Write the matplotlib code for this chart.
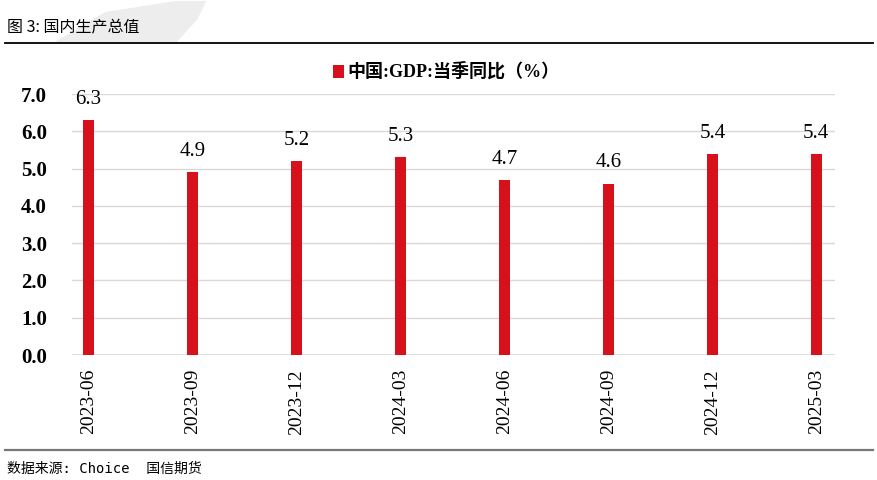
import matplotlib
matplotlib.use('Agg')
import matplotlib.pyplot as plt
from matplotlib.patches import Polygon, Rectangle
from matplotlib.lines import Line2D

quarters = ['2023-06', '2023-09', '2023-12', '2024-03',
            '2024-06', '2024-09', '2024-12', '2025-03']
gdp_yoy = [6.3, 4.9, 5.2, 5.3, 4.7, 4.6, 5.4, 5.4]
yticks = [0.0, 1.0, 2.0, 3.0, 4.0, 5.0, 6.0, 7.0]

title = '图 3: 国内生产总值'
legend_label = '中国:GDP:当季同比（%）'
source = '数据来源: Choice  国信期货'

RED = '#d7111c'
SERIF = ['Liberation Serif', 'DejaVu Serif']
CJK = ['Noto Sans CJK SC', 'DejaVu Sans']

fig = plt.figure(figsize=(8.78, 4.8), dpi=100)

# light grey brush stroke behind the header
fig.patches.append(Polygon([(0.06, 0.91), (0.12, 0.975), (0.2, 0.998), (0.235, 0.998),
                            (0.225, 0.96), (0.2, 0.91)], closed=True,
                           transform=fig.transFigure, facecolor='#ededed',
                           edgecolor='none', zorder=0))

fig.text(0.008, 0.945, title, family=CJK, fontsize=11.5, weight='light',
         va='center', ha='left')
fig.add_artist(Line2D([0.006, 0.994], [0.91, 0.91], color='black', lw=1.3,
                      transform=fig.transFigure))
fig.add_artist(Line2D([0.006, 0.994], [0.062, 0.062], color='#777777', lw=1.6,
                      transform=fig.transFigure))
fig.text(0.008, 0.024, source, family=['DejaVu Sans Mono', 'Noto Sans CJK SC'],
         fontsize=10, va='center', ha='left')

ax = fig.add_axes([0.082, 0.2604, 0.869, 0.5436])
x = range(len(quarters))
ax.bar(x, gdp_yoy, width=0.11, color=RED, zorder=3)
for xi, v in zip(x, gdp_yoy):
    ax.annotate(f'{v:.1f}', (xi, v), xytext=(0, 8), textcoords='offset points',
                ha='center', va='bottom', family=SERIF, fontsize=15)

ax.set_xlim(-0.16, 7.18)
ax.set_ylim(0, 7)
ax.set_yticks(yticks)
ax.set_yticklabels([f'{t:.1f}' for t in yticks], family=SERIF, fontsize=15,
                   weight='bold')
ax.set_xticks(list(x))
ax.set_xticklabels(quarters, rotation=90, family=SERIF, fontsize=14)
ax.tick_params(length=0, pad=10)
ax.tick_params(axis='y', pad=18)
ax.grid(axis='y', color='#d9d9d9', lw=1, zorder=0)
for s in ax.spines.values():
    s.set_visible(False)
ax.axhline(0, color='#d9d9d9', lw=1.2, zorder=2)

# legend
fig.patches.append(Rectangle((0.3795, 0.838), 0.0125, 0.026, transform=fig.transFigure,
                             facecolor=RED, edgecolor='none'))
fig.text(0.396, 0.851, legend_label, family=['Liberation Serif', 'Noto Sans CJK SC'],
         fontsize=13, weight='bold', va='center', ha='left')

fig.savefig('out.png', dpi=100)
